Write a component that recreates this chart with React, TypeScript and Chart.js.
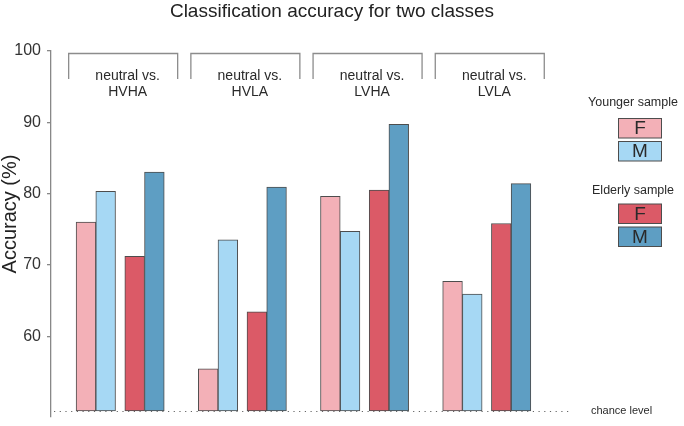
import { useEffect, useRef } from "react";
import { Chart, registerables } from "chart.js";

Chart.register(...registerables);

// ---- data ----
const GROUPS = ["HVHA", "HVLA", "LVHA", "LVLA"];
const YOUNG_F = [76.0, 55.4, 79.6, 67.7];
const YOUNG_M = [80.3, 73.5, 74.7, 65.9];
const ELDERLY_F = [71.2, 63.4, 80.5, 75.8];
const ELDERLY_M = [83.0, 80.9, 89.7, 81.4];
const Y_TICKS = [60, 70, 80, 90, 100];
const CHANCE = 49.5;
const TITLE = "Classification accuracy for two classes";
const Y_TITLE = "Accuracy (%)";

// ---- styles ----
const FONT = "'Liberation Sans', Arial, Helvetica, sans-serif";
const C_YF = "#F3B0B7";
const C_YM = "#A6D8F4";
const C_EF = "#DB5A67";
const C_EM = "#5E9EC3";
const BORDER = "#4d4d4d";
const OFFSETS = [-0.28, -0.1187, 0.1187, 0.28];

const toPoints = (vals: number[], k: number) =>
  vals.map((v, g) => ({ x: g + OFFSETS[k], y: v }));

const decor = {
  id: "decor",
  afterDraw(chart: any) {
    const ctx = chart.ctx as CanvasRenderingContext2D;
    const xs = chart.scales.x;
    const ys = chart.scales.y;
    ctx.save();
    // title
    ctx.fillStyle = "#222";
    ctx.font = `19px ${FONT}`;
    ctx.textAlign = "center";
    ctx.textBaseline = "alphabetic";
    ctx.fillText(TITLE, 332, 17);
    // y title
    ctx.save();
    ctx.translate(10, 214);
    ctx.rotate(-Math.PI / 2);
    ctx.font = `20px ${FONT}`;
    ctx.textBaseline = "middle";
    ctx.fillText(Y_TITLE, 0, 0);
    ctx.restore();
    // brackets + labels
    GROUPS.forEach((name, g) => {
      const cx = xs.getPixelForValue(g) + 3;
      ctx.strokeStyle = "#8c8c8c";
      ctx.lineWidth = 1.3;
      ctx.beginPath();
      ctx.moveTo(cx - 54.5, 79);
      ctx.lineTo(cx - 54.5, 53.5);
      ctx.lineTo(cx + 54.5, 53.5);
      ctx.lineTo(cx + 54.5, 79);
      ctx.stroke();
      ctx.fillStyle = "#2a2a2a";
      ctx.font = `14px ${FONT}`;
      ctx.textAlign = "center";
      ctx.textBaseline = "middle";
      ctx.fillText("neutral vs.", cx + 4.5, 76);
      ctx.fillText(name, cx + 4.5, 92);
    });
    // chance level
    const cy = Math.round(ys.getPixelForValue(CHANCE)) + 0.5;
    ctx.strokeStyle = "#666";
    ctx.lineWidth = 1.2;
    ctx.setLineDash([1.2, 4.5]);
    ctx.beginPath();
    ctx.moveTo(54, cy);
    ctx.lineTo(569, cy);
    ctx.stroke();
    ctx.setLineDash([]);
    ctx.fillStyle = "#2a2a2a";
    ctx.font = `11px ${FONT}`;
    ctx.textAlign = "left";
    ctx.textBaseline = "middle";
    ctx.fillText("chance level", 591, 410.5);
    // legend
    const box = (y: number, color: string, letter: string) => {
      ctx.fillStyle = color;
      ctx.fillRect(618.5, y, 43, 19.5);
      ctx.strokeStyle = BORDER;
      ctx.lineWidth = 1;
      ctx.strokeRect(618.5, y, 43, 19.5);
      ctx.fillStyle = "#2a2a2a";
      ctx.font = `19px ${FONT}`;
      ctx.textAlign = "center";
      ctx.textBaseline = "middle";
      ctx.fillText(letter, 640, y + 10.5);
    };
    ctx.fillStyle = "#2a2a2a";
    ctx.font = `12.5px ${FONT}`;
    ctx.textAlign = "center";
    ctx.textBaseline = "middle";
    ctx.fillText("Younger sample", 633, 103);
    box(118.5, C_YF, "F");
    box(141.5, C_YM, "M");
    ctx.fillStyle = "#2a2a2a";
    ctx.font = `12.5px ${FONT}`;
    ctx.textAlign = "center";
    ctx.textBaseline = "middle";
    ctx.fillText("Elderly sample", 633, 191);
    box(204, C_EF, "F");
    box(227, C_EM, "M");
    ctx.restore();
  },
};

export default function App() {
  const ref = useRef<HTMLCanvasElement>(null);
  useEffect(() => {
    if (!ref.current) return;
    const mk = (label: string, vals: number[], k: number, color: string) => ({
      label,
      data: toPoints(vals, k),
      backgroundColor: color,
      borderColor: BORDER,
      borderWidth: 1,
      borderSkipped: false,
      base: CHANCE,
      grouped: false,
      barPercentage: 1,
      categoryPercentage: 1,
    });
    const chart = new Chart(ref.current, {
      type: "bar",
      data: {
        datasets: [
          mk("Younger F", YOUNG_F, 0, C_YF),
          mk("Younger M", YOUNG_M, 1, C_YM),
          mk("Elderly F", ELDERLY_F, 2, C_EF),
          mk("Elderly M", ELDERLY_M, 3, C_EM),
        ] as any,
      },
      options: {
        animation: false,
        responsive: false,
        layout: { padding: { left: 0, right: 109, top: 51, bottom: 9 } },
        plugins: { legend: { display: false }, tooltip: { enabled: false }, title: { display: false } },
        scales: {
          x: {
            type: "linear",
            display: false,
            offset: false,
            min: -0.566,
            max: 3.722,
            ticks: { stepSize: 1 },
          },
          y: {
            type: "linear",
            min: 48.66,
            max: 100,
            afterBuildTicks: (s: any) => {
              s.ticks = Y_TICKS.map((v) => ({ value: v }));
            },
            afterFit: (s: any) => {
              s.width = 51;
              s.paddingTop = 0;
              s.paddingBottom = 0;
            },
            grid: { display: true, drawOnChartArea: false, drawTicks: true, tickLength: 4, color: "#888", lineWidth: 1.3 },
            border: { display: true, color: "#888", width: 1.3 },
            ticks: { color: "#333", font: { size: 16, family: FONT }, padding: 6, autoSkip: false },
          },
        },
      } as any,
      plugins: [decor],
    });
    return () => chart.destroy();
  }, []);
  return (
    <div style={{ position: "fixed", left: 0, top: 0, width: 684, height: 426, background: "#fff" }}>
      <canvas ref={ref} width={684} height={426} style={{ display: "block" }} />
    </div>
  );
}
